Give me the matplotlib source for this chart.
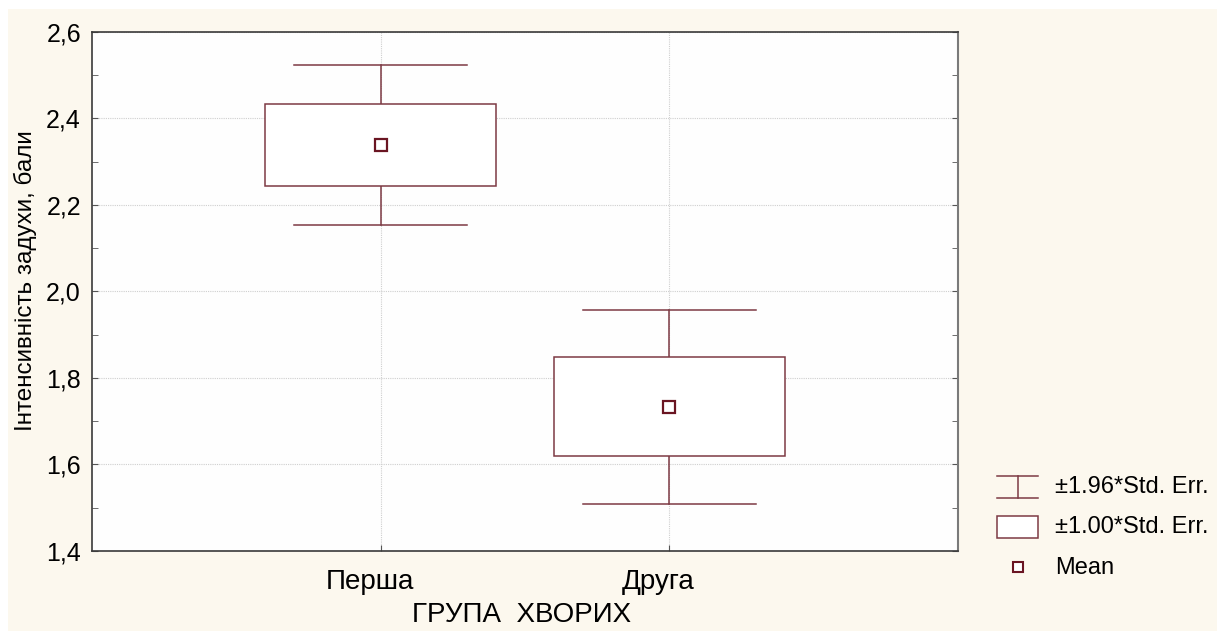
import matplotlib
matplotlib.use("Agg")
import matplotlib.pyplot as plt
from matplotlib.patches import Rectangle
from matplotlib.ticker import MultipleLocator, FuncFormatter
from matplotlib.transforms import ScaledTranslation

# Group means and standard errors
groups = ["Перша", "Друга"]
means = [2.339, 1.733]
std_errs = [0.094, 0.1145]

legend_labels = ["±1.96*Std. Err.", "±1.00*Std. Err.", "Mean"]

line_color = "#7d3a44"
mean_color = "#6a1522"
bg_color = "#fcf8ee"

plt.rcParams["font.family"] = ["Liberation Sans", "DejaVu Sans"]

fig = plt.figure(figsize=(12.17, 6.31), dpi=100, facecolor="white")
# cream panel behind everything
fig.patches.append(Rectangle((8 / 1217, 0), 1, 1 - 9 / 631, transform=fig.transFigure,
                             facecolor=bg_color, edgecolor="none", zorder=-10))

ax = fig.add_axes([92 / 1217, 80 / 631, 866 / 1217, 519 / 631])
ax.set_facecolor("#fefefe")

box_w = 0.8
cap_w = 0.6
for i, (m, se) in enumerate(zip(means, std_errs)):
    x = i + 1
    lo1, hi1 = m - se, m + se
    lo2, hi2 = m - 1.96 * se, m + 1.96 * se
    # whiskers and caps
    ax.plot([x, x], [hi1, hi2], color=line_color, lw=1.1, zorder=3)
    ax.plot([x, x], [lo2, lo1], color=line_color, lw=1.1, zorder=3)
    ax.plot([x - cap_w / 2, x + cap_w / 2], [hi2, hi2], color=line_color, lw=1.1, zorder=3)
    ax.plot([x - cap_w / 2, x + cap_w / 2], [lo2, lo2], color=line_color, lw=1.1, zorder=3)
    # ±1 SE box
    ax.add_patch(Rectangle((x - box_w / 2, lo1), box_w, hi1 - lo1, facecolor="white",
                           edgecolor=line_color, lw=1.1, zorder=3))
    ax.plot(x, m, marker="s", ms=8, mfc="white", mec=mean_color, mew=1.6, zorder=4)

ax.set_xlim(0, 3)
ax.set_ylim(1.4, 2.6)
ax.set_xticks([1, 2])
ax.set_xticklabels(groups, fontsize=20)

ax.yaxis.set_major_locator(MultipleLocator(0.2))
ax.yaxis.set_minor_locator(MultipleLocator(0.1))
ax.yaxis.set_major_formatter(FuncFormatter(lambda v, p: f"{v:.1f}".replace(".", ",")))
ax.tick_params(axis="y", which="major", labelsize=18, direction="in", length=4,
               right=True, pad=8, color="#555555")
ax.tick_params(axis="y", which="minor", direction="in", length=4, right=True, color="#555555")
ax.tick_params(axis="x", which="major", direction="in", length=4, pad=13, color="#555555")

# group names sit slightly left of their ticks
shift = ScaledTranslation(-11 / 100, 0, fig.dpi_scale_trans)
for lbl in ax.get_xticklabels():
    lbl.set_transform(lbl.get_transform() + shift)

ax.grid(True, which="major", color="#cfcfcf", linestyle=(0, (1, 1)), lw=0.8, zorder=0)
ax.set_axisbelow(True)

for side in ["left", "bottom", "top"]:
    ax.spines[side].set_color("#3a3a3a")
    ax.spines[side].set_linewidth(1.2)
ax.spines["right"].set_color("#7a7a7a")
ax.spines["right"].set_linewidth(1.5)

ax.set_xlabel("ГРУПА  ХВОРИХ", fontsize=20, labelpad=5)
ax.xaxis.label.set_transform(ax.xaxis.label.get_transform()
                             + ScaledTranslation(-3 / 100, 0, fig.dpi_scale_trans))
ax.set_ylabel("Інтенсивність задухи, бали", fontsize=17.5)
ax.yaxis.set_label_coords(-0.063, 0.521)

# legend drawn in pixel coordinates
lax = fig.add_axes([0, 0, 1, 1], facecolor="none")
lax.set_xlim(0, 1217)
lax.set_ylim(631, 0)
lax.axis("off")
lax.plot([997, 1038], [476, 476], color=line_color, lw=1.1)
lax.plot([997, 1038], [498, 498], color=line_color, lw=1.1)
lax.plot([1017.5, 1017.5], [476, 498], color=line_color, lw=1.1)
lax.add_patch(Rectangle((997, 516), 41, 22, facecolor="white", edgecolor=line_color, lw=1.1))
lax.plot(1017.5, 567, marker="s", ms=7, mfc="white", mec=mean_color, mew=1.5)
for y, lab in zip([487, 527, 568], legend_labels):
    lax.text(1055, y, lab, fontsize=17, va="center", ha="left")

fig.savefig("out.png", dpi=100, facecolor=fig.get_facecolor())
